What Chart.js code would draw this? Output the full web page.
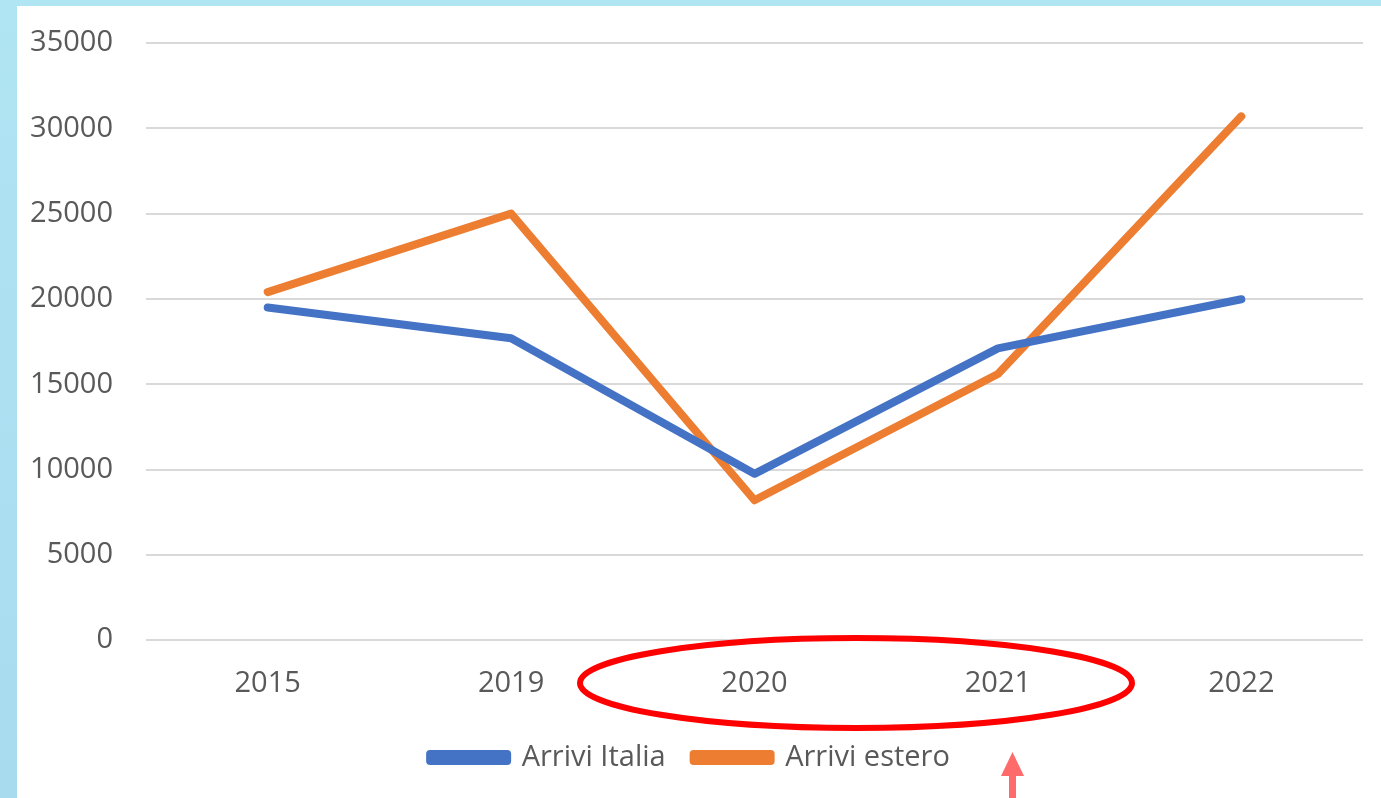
<!DOCTYPE html>
<html>
<head>
<meta charset="utf-8">
<script src="https://cdn.jsdelivr.net/npm/chart.js@4"></script>
<style>
  html, body {
    margin: 0;
    padding: 0;
    width: 1381px;
    height: 798px;
    overflow: hidden;
    background: linear-gradient(180deg, #b0e5f4 0%, #a9dbee 100%);
  }
  #wrap {
    position: absolute;
    left: 17px;
    top: 6px;
    width: 1364px;
    height: 792px;
    background: #ffffff;
  }
</style>
</head>
<body>
<div id="wrap"><canvas id="chart"></canvas></div>
<script>
const anni = ["2015", "2019", "2020", "2021", "2022"];
const arriviItalia = [19500, 17700, 9750, 17100, 19980];
const arriviEstero = [20400, 25000, 8200, 15600, 30700];
const yTicks = [0, 5000, 10000, 15000, 20000, 25000, 30000, 35000];

const FONT = "'Open Sans', 'Liberation Sans', sans-serif";

// cerchio rosso e freccia disegnati sopra il grafico
const annotazioni = {
  id: "annotazioni",
  afterDraw(chart) {
    const ctx = chart.ctx;
    ctx.save();
    ctx.strokeStyle = "#ff0000";
    ctx.lineWidth = 6;
    ctx.beginPath();
    ctx.ellipse(839, 677, 276, 45, 0, 0, Math.PI * 2);
    ctx.stroke();

    ctx.fillStyle = "#ff6b6b";
    ctx.fillRect(992, 768, 7, 30);
    ctx.beginPath();
    ctx.moveTo(995.5, 746);
    ctx.lineTo(984, 770);
    ctx.lineTo(1007, 770);
    ctx.closePath();
    ctx.fill();
    ctx.restore();
  },
};

new Chart(document.getElementById("chart"), {
  type: "line",
  data: {
    labels: anni,
    datasets: [
      {
        label: "Arrivi Italia",
        data: arriviItalia,
        borderColor: "#4472c4",
        backgroundColor: "#4472c4",
        borderWidth: 8,
        pointRadius: 0,
        tension: 0,
        borderCapStyle: "round",
        borderJoinStyle: "round",
      },
      {
        label: "Arrivi estero",
        data: arriviEstero,
        borderColor: "#ed7d31",
        backgroundColor: "#ed7d31",
        borderWidth: 8,
        pointRadius: 0,
        tension: 0,
        borderCapStyle: "round",
        borderJoinStyle: "round",
      },
    ],
  },
  options: {
    responsive: true,
    maintainAspectRatio: false,
    animation: false,
    layout: {
      padding: { left: 0, right: 18, top: 37, bottom: 16 },
    },
    plugins: {
      legend: {
        position: "bottom",
        labels: {
          boxWidth: 77,
          boxHeight: 7,
          padding: 28,
          color: "#595959",
          font: { family: FONT, size: 29 },
        },
      },
      tooltip: { enabled: false },
    },
    scales: {
      x: {
        offset: true,
        grid: { display: false },
        border: { display: false },
        afterFit(axis) {
          axis.height -= 4;
        },
        ticks: {
          color: "#595959",
          font: { family: FONT, size: 29 },
          padding: 18,
        },
      },
      y: {
        min: 0,
        max: 35000,
        afterBuildTicks(axis) {
          axis.ticks = yTicks.map((v) => ({ value: v }));
        },
        afterFit(axis) {
          axis.width = 129;
        },
        grid: {
          color: "#d9d9d9",
          lineWidth: 2,
          drawTicks: true,
          tickLength: 33,
          tickColor: "rgba(0,0,0,0)",
        },
        border: { display: false },
        ticks: {
          color: "#595959",
          font: { family: FONT, size: 29 },
          padding: 0,
          callback: (v) => String(v),
        },
      },
    },
  },
  plugins: [annotazioni],
});
</script>
</body>
</html>
